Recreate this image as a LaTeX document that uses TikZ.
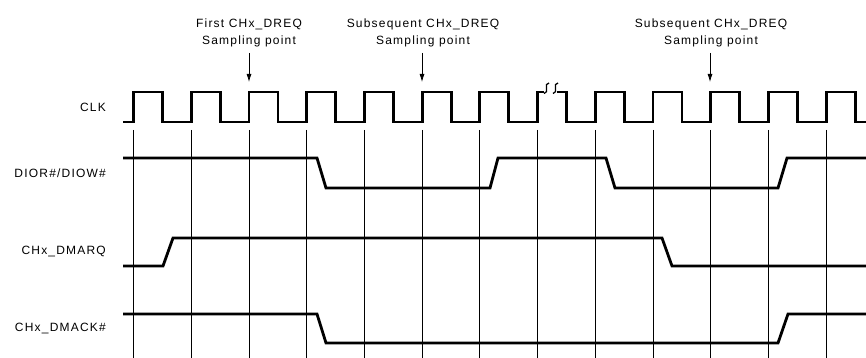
\documentclass[tikz,border=0pt]{standalone}
\usepackage{fontspec}
\setmainfont{Liberation Sans}[LetterSpace=10]
\usepackage{tikz}
\usetikzlibrary{arrows.meta}

\begin{document}
\begin{tikzpicture}[x=1pt, y=-1pt, >={Latex[length=8pt,width=5pt]},
  sig/.style={line width=2.8pt, line join=miter},
  tick/.style={line width=0.8pt},
  sname/.style={anchor=east, inner sep=0pt, font=\fontsize{12}{14}\selectfont},
  spoint/.style={anchor=south, inner sep=0pt, align=center,
                 font=\fontsize{12}{17}\selectfont}]
  \useasboundingbox (0,0) rectangle (866,358);
  % signal names
  \node[sname] (clk)   at (106,107) {CLK};
  \node[sname] (dior)  at (106,173) {DIOR\#/DIOW\#};
  \node[sname] (dmarq) at (106,252) {CHx\_DMARQ};
  \node[sname] (dmack) at (106,328) {CHx\_DMACK\#};
  % clock edges
  \foreach \i in {0,...,12}
    \draw[tick] ({133.5+57.72*\i},130) -- ({133.5+57.72*\i},358);
  \draw[sig] (123,122)
    \foreach \i in {0,...,12}{
      -- ({133.5+57.72*\i},122) -- ({133.5+57.72*\i},92)
      -- ({162.5+57.72*\i},92) -- ({162.5+57.72*\i},122)}
    -- (866,122);
  % break in the clock
  \fill[white] (543.5,86) rectangle (556.5,98);
  \draw[line width=1.3pt] (549,83) .. controls (543,83) and (550,93) .. (544,93.5);
  \draw[line width=1.3pt] (558,83) .. controls (552,83) and (559,93) .. (553,93.5);
  % sampling points
  \node[spoint] (first) at (249,47) {First CHx\_DREQ\\Sampling point};
  \node[spoint] (next1) at (423,47) {Subsequent CHx\_DREQ\\Sampling point};
  \node[spoint] (next2) at (711,47) {Subsequent CHx\_DREQ\\Sampling point};
  \coordinate (p1) at (249,82);
  \coordinate (p2) at (422,82);
  \coordinate (p3) at (710,82);
  \draw[->, line width=0.8pt, shorten <=6pt] (first.south) -- (p1);
  \draw[->, line width=0.8pt, shorten <=6pt] (next1.south -| p2) -- (p2);
  \draw[->, line width=0.8pt, shorten <=6pt] (next2.south -| p3) -- (p3);
  % DIOR#/DIOW#
  \draw[sig] (123,158) -- (317,158) -- (326,188) -- (490,188) -- (498,158)
    -- (606,158) -- (615,188) -- (778,188) -- (787,158) -- (866,158);
  % CHx_DMARQ
  \draw[sig] (123,266) -- (163,266) -- (173,238) -- (662,238) -- (672,266)
    -- (866,266);
  % CHx_DMACK#
  \draw[sig] (123,314) -- (317,314) -- (326,343) -- (778,343) -- (788,314)
    -- (866,314);
\end{tikzpicture}
\end{document}
